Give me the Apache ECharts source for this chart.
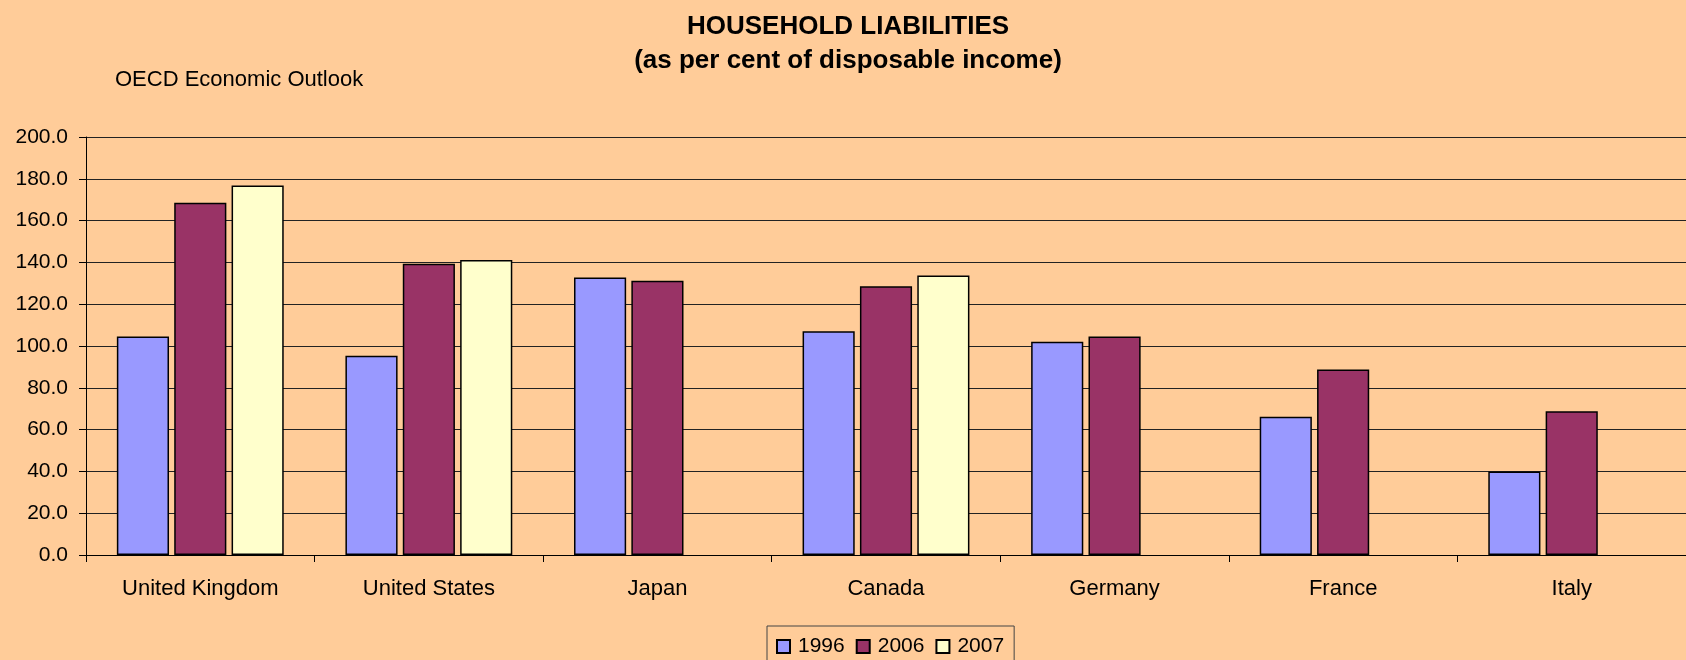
<!DOCTYPE html>
<html>
<head>
<meta charset="utf-8">
<script src="https://cdn.jsdelivr.net/npm/echarts@6/dist/echarts.min.js"></script>
<style>
html,body{margin:0;padding:0;background:#FFCC99;}
#chart{width:1686px;height:660px;}
</style>
</head>
<body>
<div id="chart"></div>
<script>
var categories = ['United Kingdom', 'United States', 'Japan', 'Canada', 'Germany', 'France', 'Italy'];
var seriesNames = ['1996', '2006', '2007'];
var values1996 = [104.5, 95.3, 132.8, 107.1, 102.0, 66.2, 40.0];
var values2006 = [168.5, 139.3, 131.2, 128.6, 104.5, 88.7, 68.8];
var values2007 = [176.8, 141.1, null, 133.7, null, null, null];
var yTicks = [0, 20, 40, 60, 80, 100, 120, 140, 160, 180, 200];

var colors = ['#9999FF', '#993366', '#FFFFCC'];
var font = 'Liberation Sans, Arial, sans-serif';

var chart = echarts.init(document.getElementById('chart'));

function barSeries(name, data, color) {
  return {
    name: name,
    type: 'bar',
    data: data,
    barGap: '10%',
    barCategoryGap: '27%',
    itemStyle: { color: color, borderColor: '#000', borderWidth: 1.5 }
  };
}

chart.setOption({
  backgroundColor: '#FFCC99',
  animation: false,
  title: [
    {
      text: 'HOUSEHOLD LIABILITIES\n(as per cent of disposable income)',
      left: 843,
      top: 5,
      textAlign: 'center',
      textStyle: { fontFamily: font, fontSize: 26, fontWeight: 'bold', color: '#000', lineHeight: 34 }
    },
    {
      text: 'OECD Economic Outlook',
      left: 110,
      top: 64,
      textStyle: { fontFamily: font, fontSize: 22, fontWeight: 'normal', color: '#000', lineHeight: 22 }
    }
  ],
  legend: {
    data: seriesNames,
    left: 767,
    top: 626,
    orient: 'horizontal',
    icon: 'rect',
    itemWidth: 13,
    itemHeight: 13,
    itemGap: 11,
    padding: [10, 10, 10, 9],
    borderColor: '#444',
    borderWidth: 1,
    textStyle: { fontFamily: font, fontSize: 21, color: '#000', lineHeight: 21, padding: [0, 0, 0, 3] }
  },
  grid: { left: 86, right: -11, top: 137, bottom: 105, containLabel: false },
  xAxis: {
    type: 'category',
    data: categories,
    axisLine: { lineStyle: { color: '#000', width: 1 } },
    axisTick: { show: true, length: 7, lineStyle: { color: '#000' } },
    axisLabel: { fontFamily: font, fontSize: 22, color: '#000', margin: 23, interval: 0 }
  },
  yAxis: {
    type: 'value',
    min: yTicks[0],
    max: yTicks[yTicks.length - 1],
    interval: yTicks[1] - yTicks[0],
    axisLine: { show: true, lineStyle: { color: '#000', width: 1 } },
    axisTick: { show: true, length: 7, lineStyle: { color: '#000' } },
    axisLabel: {
      fontFamily: font, fontSize: 21, color: '#000', margin: 18,
      formatter: function (v) { return v.toFixed(1); }
    },
    splitLine: { show: true, lineStyle: { color: '#222', width: 1 } }
  },
  series: [
    barSeries(seriesNames[0], values1996, colors[0]),
    barSeries(seriesNames[1], values2006, colors[1]),
    barSeries(seriesNames[2], values2007, colors[2])
  ]
});
</script>
</body>
</html>
